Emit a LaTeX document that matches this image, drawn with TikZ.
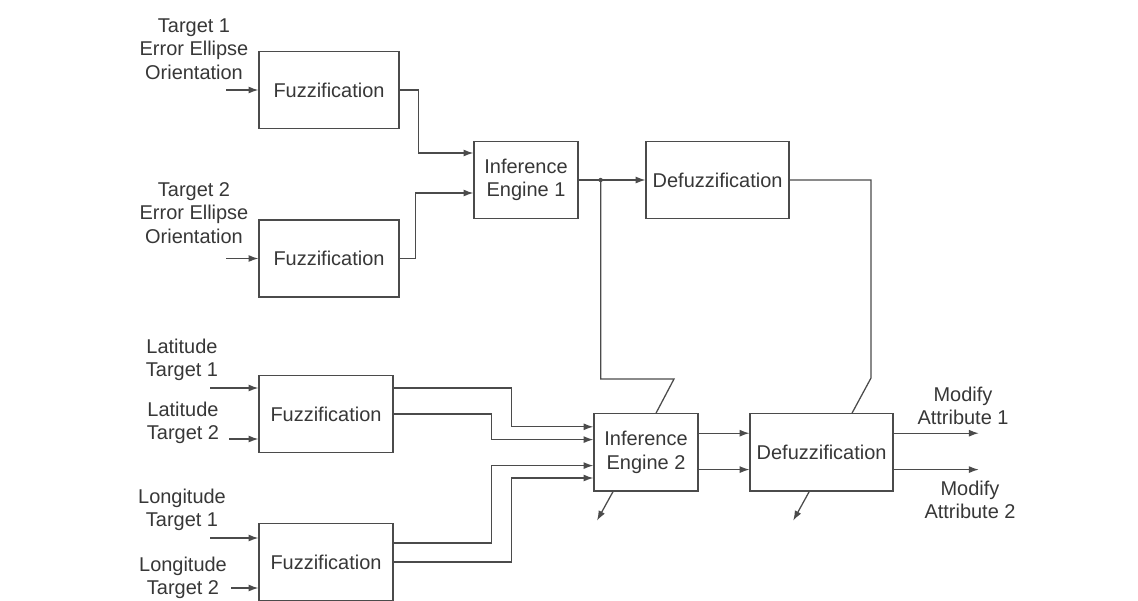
\documentclass[tikz,border=0pt]{standalone}
\usepackage{fontspec}
\setmainfont{Liberation Sans}
\usepackage{xcolor}
\usepackage{tikz}
\usetikzlibrary{arrows.meta}
\definecolor{ink}{RGB}{75,75,75}
\definecolor{txt}{RGB}{55,55,55}

\begin{document}
\begin{tikzpicture}[
    block/.style={draw=ink,line width=0.9pt,minimum height=1.93cm,text=txt,
        font=\fontsize{14.2}{16.7}\selectfont,align=center},
    lbl/.style={text=txt,align=center,inner sep=0pt,
        font=\fontsize{14.2}{16.7}\selectfont},
    wire/.style={draw=ink,line width=0.9pt},
    sig/.style={wire,-{Latex[length=7pt,width=5pt]}}]
\useasboundingbox (0,0) rectangle (28.45,-15);

% fuzzification
\node[block,minimum width=3.5cm] at (8.225,-2.25) (f1) {Fuzzification};
\node[block,minimum width=3.5cm] at (8.225,-6.4625) (f2) {Fuzzification};
\node[block,minimum width=3.35cm] at (8.15,-10.35) (f3) {Fuzzification};
\node[block,minimum width=3.35cm] at (8.15,-14.05) (f4) {Fuzzification};

% inference and defuzzification
\node[block,minimum width=2.6cm] at (13.15,-4.5) (ie1) {Inference\\Engine 1};
\node[block,minimum width=3.575cm] at (17.94,-4.5) (d1) {Defuzzification};
\node[block,minimum width=2.6cm] at (16.15,-11.31) (ie2) {Inference\\Engine 2};
\node[block,minimum width=3.575cm] at (20.54,-11.31) (d2) {Defuzzification};

% input labels
\node[lbl] at (4.85,-1.225) (lt1) {Target 1\\Error Ellipse\\Orientation};
\node[lbl] at (4.85,-5.325) (lt2) {Target 2\\Error Ellipse\\Orientation};
\node[lbl] at (4.55,-9.0) (lla1) {Latitude\\Target 1};
\node[lbl] at (4.575,-10.575) (lla2) {Latitude\\Target 2};
\node[lbl] at (4.55,-12.75) (llo1) {Longitude\\Target 1};
\node[lbl] at (4.575,-14.45) (llo2) {Longitude\\Target 2};

% output labels
\node[lbl] at (24.075,-10.15) (mod1) {Modify\\Attribute 1};
\node[lbl] at (24.25,-12.5) (mod2) {Modify\\Attribute 2};

% free ends
\coordinate (in1) at ([xshift=-0.8cm]f1.west);
\coordinate (in2) at ([xshift=-0.8cm]f2.west);
\coordinate (la1) at ([xshift=-1.2cm,yshift=0.65cm]f3.west);
\coordinate (la2) at ([xshift=-0.725cm,yshift=-0.625cm]f3.west);
\coordinate (lo1) at ([xshift=-1.2cm,yshift=0.6cm]f4.west);
\coordinate (lo2) at ([xshift=-0.675cm,yshift=-0.65cm]f4.west);
\coordinate (o1) at ([xshift=2.125cm,yshift=0.48cm]d2.east);
\coordinate (o2) at ([xshift=2.125cm,yshift=-0.43cm]d2.east);
\coordinate (r1) at ([xshift=-1.225cm,yshift=-0.725cm]ie2.south);
\coordinate (r2) at ([xshift=-0.71cm,yshift=-0.725cm]d2.south);
\coordinate (j1) at ([xshift=0.55cm]ie1.east);

% inputs
\draw[sig] (in1) -- (f1.west);
\draw[sig] (in2) -- (f2.west);
\draw[sig] (la1) -- (la1 -| f3.west);
\draw[sig] (la2) -- (la2 -| f3.west);
\draw[sig] (lo1) -- (lo1 -| f4.west);
\draw[sig] (lo2) -- (lo2 -| f4.west);

% to inference engine 1
\draw[sig] (f1.east) -- ++(0.475,0) |- ([yshift=0.675cm]ie1.west);
\draw[sig] (f2.east) -- ++(0.4,0) |- ([yshift=-0.325cm]ie1.west);
\draw[sig] (ie1.east) -- (d1.west);
\fill[ink] (j1) circle (0.055);

% to inference engine 2
\draw[sig] ([yshift=0.65cm]f3.east) -- ++(2.95,0) |- ([yshift=0.64cm]ie2.west);
\draw[sig] (f3.east) -- ++(2.45,0) |- ([yshift=0.32cm]ie2.west);
\draw[sig] ([yshift=0.475cm]f4.east) -- ++(2.45,0) |- ([yshift=-0.33cm]ie2.west);
\draw[sig] (f4.east) -- ++(2.95,0) |- ([yshift=-0.64cm]ie2.west);

% feedback from upper stage
\draw[wire] (j1) |- (16.85,-9.475) -- ([xshift=0.25cm]ie2.north);
\draw[wire] (d1.east) -| (21.775,-9.45) -- ([xshift=0.76cm]d2.north);

% to defuzzification 2 and outputs
\draw[sig] ([yshift=0.48cm]ie2.east) -- ([yshift=0.48cm]d2.west);
\draw[sig] ([yshift=-0.43cm]ie2.east) -- ([yshift=-0.43cm]d2.west);
\draw[sig] ([yshift=0.48cm]d2.east) -- (o1);
\draw[sig] ([yshift=-0.43cm]d2.east) -- (o2);
\draw[sig] ([xshift=-0.825cm]ie2.south) -- (r1);
\draw[sig] ([xshift=-0.31cm]d2.south) -- (r2);

\end{tikzpicture}
\end{document}
